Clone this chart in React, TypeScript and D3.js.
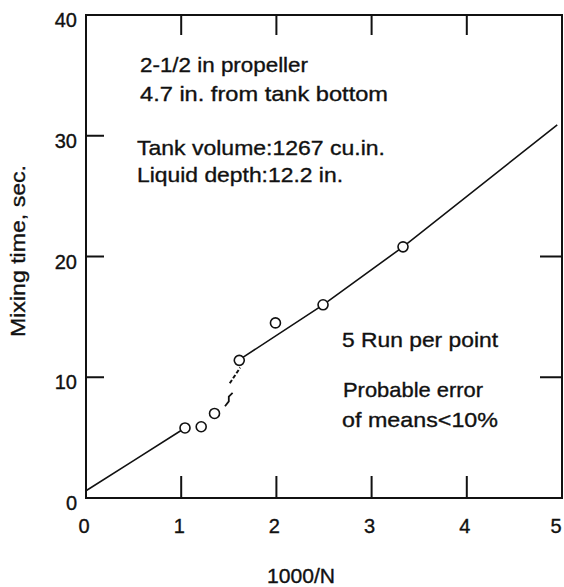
import React from 'react';
import * as d3 from 'd3';

const xTickValues = [0, 1, 2, 3, 4, 5];
const yTickValues = [0, 10, 20, 30, 40];
const xInnerTicks = [1, 2, 3, 4];
const yLeftTicks = [10, 20, 30];
const yRightTicks = [10, 20];

const pointX = [1.04, 1.21, 1.35, 1.61, 1.99, 2.49, 3.33];
const pointY = [5.8, 5.9, 7.0, 11.4, 14.5, 16.0, 20.8];

const lowFitX = [0, 0.5, 1.04];
const lowFitY = [0.6, 3.1, 5.8];
const kinkX = [1.46, 1.5, 1.5, 1.54];
const kinkY = [7.6, 8.0, 8.4, 8.7];
const dashFitX = [1.51, 1.62];
const dashFitY = [9.5, 10.8];
const highFitX = [1.64, 2.49, 3.33, 4.95];
const highFitY = [11.6, 16.0, 20.8, 30.9];

const noteTopLines = ['2-1/2 in propeller', '4.7 in. from tank bottom'];
const noteTankLines = ['Tank volume:1267 cu.in.', 'Liquid depth:12.2 in.'];
const noteRunLines = ['5 Run per point', 'Probable error', 'of means<10%'];
const xTitle = '1000/N';
const yTitle = 'Mixing time, sec.';

const W = 564;
const H = 587;
const L = 86, R = 562, T = 15, B = 498;
const FONT = "'Liberation Sans', Arial, Helvetica, sans-serif";
const INK = '#111';

export default function App() {
  const x = d3.scaleLinear().domain([0, 5]).range([L, R]);
  const y = d3.scaleLinear().domain([0, 40]).range([B, T]);
  const line = d3
    .line<[number, number]>()
    .x((d) => x(d[0]))
    .y((d) => y(d[1]));
  const zip = (a: number[], b: number[]) => a.map((v, i) => [v, b[i]] as [number, number]);
  const txt = { fill: INK, stroke: INK, strokeWidth: 0.35 };

  return (
    <svg
      width={W}
      height={H}
      viewBox={`0 0 ${W} ${H}`}
      style={{ position: 'absolute', left: 0, top: 0, background: '#fff' }}
      fontFamily={FONT}
    >
      <rect x={0} y={0} width={W} height={H} fill="#fff" />
      {/* frame */}
      <rect x={L} y={T} width={R - L} height={B - T} fill="none" stroke={INK} strokeWidth={2} />
      {/* ticks */}
      {xInnerTicks.map((t) => (
        <g key={'xt' + t}>
          <line x1={x(t)} x2={x(t)} y1={B} y2={B - 22} stroke={INK} strokeWidth={2} />
          <line x1={x(t)} x2={x(t)} y1={T} y2={T + 20} stroke={INK} strokeWidth={2} />
        </g>
      ))}
      {yLeftTicks.map((t) => (
        <line key={'yl' + t} x1={L} x2={L + 18} y1={y(t)} y2={y(t)} stroke={INK} strokeWidth={2} />
      ))}
      {yRightTicks.map((t) => (
        <line key={'yr' + t} x1={R} x2={R - 22} y1={y(t)} y2={y(t)} stroke={INK} strokeWidth={2} />
      ))}
      {/* tick labels */}
      {xTickValues.map((t) => (
        <text key={'xl' + t} x={Math.min(x(t) - 2, W - 8)} y={533} fontSize={20} textAnchor="middle" {...txt}>
          {t}
        </text>
      ))}
      {yTickValues.map((t) => (
        <text key={'yv' + t} x={77} y={y(t) + 12} fontSize={20} textAnchor="end" {...txt}>
          {t}
        </text>
      ))}
      {/* axis titles */}
      <text x={301} y={583} fontSize={20} textAnchor="middle" {...txt} textLength={68} lengthAdjust="spacingAndGlyphs">
        {xTitle}
      </text>
      <text
        transform={`translate(25,${251}) rotate(-90)`}
        fontSize={20}
        textAnchor="middle"
        {...txt}
        textLength={172}
        lengthAdjust="spacingAndGlyphs"
      >
        {yTitle}
      </text>
      {/* fitted lines */}
      <path d={line(zip(lowFitX, lowFitY)) || ''} fill="none" stroke={INK} strokeWidth={1.6} />
      <path d={line(zip(kinkX, kinkY)) || ''} fill="none" stroke={INK} strokeWidth={1.8} />
      <path d={line(zip(dashFitX, dashFitY)) || ''} fill="none" stroke={INK} strokeWidth={2} strokeDasharray="4,2" />
      <path d={line(zip(highFitX, highFitY)) || ''} fill="none" stroke={INK} strokeWidth={1.6} />
      {/* data points */}
      {pointX.map((px, i) => (
        <circle key={'p' + i} cx={x(px)} cy={y(pointY[i])} r={5} fill="#fff" stroke={INK} strokeWidth={1.6} />
      ))}
      {/* annotations */}
      <text x={140} y={72} fontSize={21} {...txt} textLength={168} lengthAdjust="spacingAndGlyphs">{noteTopLines[0]}</text>
      <text x={140} y={101} fontSize={21} {...txt} textLength={248} lengthAdjust="spacingAndGlyphs">{noteTopLines[1]}</text>
      <text x={137} y={155} fontSize={21} {...txt} textLength={248} lengthAdjust="spacingAndGlyphs">{noteTankLines[0]}</text>
      <text x={137} y={182} fontSize={21} {...txt} textLength={206} lengthAdjust="spacingAndGlyphs">{noteTankLines[1]}</text>
      <text x={342} y={347} fontSize={21} {...txt} textLength={156} lengthAdjust="spacingAndGlyphs">{noteRunLines[0]}</text>
      <text x={343} y={397} fontSize={21} {...txt} textLength={140} lengthAdjust="spacingAndGlyphs">{noteRunLines[1]}</text>
      <text x={342} y={427} fontSize={21} {...txt} textLength={156} lengthAdjust="spacingAndGlyphs">{noteRunLines[2]}</text>
    </svg>
  );
}
